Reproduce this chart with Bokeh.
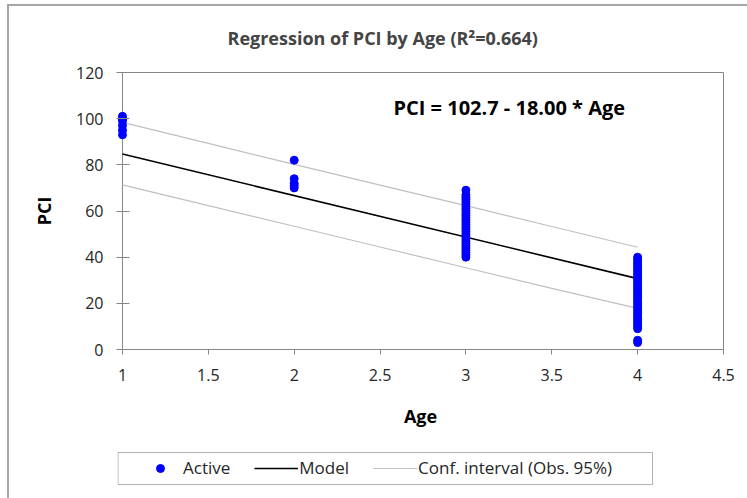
from bokeh.plotting import figure
from bokeh.models import Range1d, LinearAxis, Legend, LegendItem, Label, FixedTicker, BoxAnnotation
from bokeh.layouts import column
from bokeh.embed import file_html
from bokeh.resources import INLINE

# ---- data ----
age_1_pci = [101, 100, 99, 97, 95, 93]
age_2_pci = [82, 74, 72, 71, 70]
age_3_pci = [69, 67, 66, 65, 64, 63, 62, 61, 60, 59, 58, 57, 56, 55, 54, 53, 52,
             51, 50, 49, 48, 47, 46, 45, 44, 43, 42, 41, 40]
age_4_pci = [40, 39, 38, 37, 36, 35, 34, 33, 32, 31, 30, 29, 28, 27, 26, 25, 24,
             23, 22, 21, 20, 19, 18, 17, 16, 15, 14, 13, 12, 11, 10, 9, 4, 3]

model_x = [1, 4]
model_y = [84.7, 30.7]

ci_x = [1, 1.5, 2, 2.5, 3, 3.5, 4]
ci_upper = [98.4, 89.3, 80.2, 71.2, 62.3, 53.3, 44.3]
ci_lower = [71.3, 62.3, 53.4, 44.4, 35.4, 26.5, 17.8]

x_ticks = [1, 1.5, 2, 2.5, 3, 3.5, 4, 4.5]
x_tick_labels = ["1", "1.5", "2", "2.5", "3", "3.5", "4", "4.5"]
y_ticks = [0, 20, 40, 60, 80, 100, 120]

title_text = "Regression of PCI by Age (R\u00b2=0.664)"
equation_text = "PCI = 102.7 - 18.00 * Age"
legend_labels = ["Active", "Model", "Conf. interval (Obs. 95%)"]

# ---- build point columns ----
xs, ys = [], []
for a, vals in [(1, age_1_pci), (2, age_2_pci), (3, age_3_pci), (4, age_4_pci)]:
    xs += [a] * len(vals)
    ys += vals

FONT = "Open Sans"
GRAY = "#868686"
TXT = "#262626"
PT_COLOR = "#0000ff"
CI_COLOR = "#c0c0c0"

p = figure(width=747, height=440, output_backend="svg", toolbar_location=None,
           x_range=Range1d(0.971, 4.5), y_range=Range1d(0, 120),
           min_border_left=117, min_border_right=24, min_border_top=71,
           min_border_bottom=91, background_fill_color="white",
           border_fill_color="white", border_fill_alpha=0, title=title_text)
p.outline_line_color = None
p.grid.visible = False

p.title.text_font = FONT
p.title.text_font_style = "bold"
p.title.text_font_size = "18px"
p.title.align = "left"
p.title.offset = 110
p.title.standoff = 46

# y axis line at x = 1
p.line([1, 1], [0, 120], line_color=GRAY, line_width=1)

p.line(ci_x, ci_upper, line_color=CI_COLOR, line_width=1.2)
p.line(ci_x, ci_lower, line_color=CI_COLOR, line_width=1.2)
p.line(model_x, model_y, line_color="black", line_width=1.6)
p.scatter(xs, ys, size=8, color=PT_COLOR, line_color=PT_COLOR)

# axes
xa = p.xaxis[0]
xa.ticker = FixedTicker(ticks=x_ticks)
xa.major_label_overrides = {t: l for t, l in zip(x_ticks, x_tick_labels)}
xa.bounds = (1, 4.5)
xa.axis_label = "Age"
xa.major_tick_in = 0
xa.major_tick_out = 5
xa.major_label_standoff = 14
xa.axis_label_standoff = 20
xa.axis_line_color = GRAY

ya = p.yaxis[0]
ya.ticker = FixedTicker(ticks=y_ticks)
ya.axis_label = "PCI"
ya.axis_line_color = None
ya.major_tick_in = 12
ya.major_tick_out = 1
ya.major_label_standoff = 13
ya.axis_label_standoff = 17

for ax in (xa, ya):
    ax.major_tick_line_color = GRAY
    ax.minor_tick_line_color = None
    ax.major_label_text_font = FONT
    ax.major_label_text_font_size = "16px"
    ax.major_label_text_color = TXT
    ax.axis_label_text_font = FONT
    ax.axis_label_text_font_size = "18px"
    ax.axis_label_text_font_style = "bold"
    ax.axis_label_text_color = "black"

# top and right frame lines (axes without ticks or labels)
top = LinearAxis(ticker=FixedTicker(ticks=[]), bounds=(1, 4.5), axis_line_color=GRAY,
                 major_tick_line_color=None, minor_tick_line_color=None,
                 major_tick_in=0, major_tick_out=0, minor_tick_in=0, minor_tick_out=0,
                 major_label_standoff=0, axis_label_standoff=0)
right = LinearAxis(ticker=FixedTicker(ticks=[]), bounds=(0, 120), axis_line_color=GRAY,
                   major_tick_line_color=None, minor_tick_line_color=None,
                   major_tick_in=0, major_tick_out=0, minor_tick_in=0, minor_tick_out=0,
                   major_label_standoff=0, axis_label_standoff=0)
p.add_layout(top, "above")
p.add_layout(right, "right")

# equation
p.add_layout(Label(x=2.578, y=104.9, text=equation_text, text_font=FONT,
                   text_font_style="bold", text_font_size="20px",
                   text_baseline="middle", text_color="black"))

# ---- legend strip: frame aligned with main plot, data units = pixels ----
p2 = figure(width=747, height=58, output_backend="svg", toolbar_location=None,
            x_range=Range1d(117, 723), y_range=Range1d(0, 58),
            x_axis_location=None, y_axis_location=None,
            min_border_left=117, min_border_right=24, min_border_top=0,
            min_border_bottom=0, background_fill_alpha=0,
            border_fill_color="white", border_fill_alpha=0)
p2.outline_line_color = None
p2.grid.visible = False

p2.add_layout(BoxAnnotation(left=117.5, right=652, bottom=14, top=46,
                            fill_color="white", fill_alpha=1.0,
                            line_color="black", line_width=1))

# proxies for the legend (real data, outside this strip's visible range)
l_pts = p2.scatter(xs, ys, size=7, color=PT_COLOR, line_color=PT_COLOR)
l_model = p2.line(model_x, model_y, line_color="black", line_width=1.6)
l_ci = p2.line(ci_x, ci_upper, line_color=CI_COLOR, line_width=1.2)

legend = Legend(items=[LegendItem(label=legend_labels[0], renderers=[l_pts]),
                       LegendItem(label=legend_labels[1], renderers=[l_model]),
                       LegendItem(label=legend_labels[2], renderers=[l_ci])],
                orientation="horizontal", location=(21, 19), margin=0,
                padding=0, spacing=24, glyph_width=44, label_standoff=1,
                border_line_color=None, background_fill_alpha=0,
                label_text_font=FONT, label_text_font_size="17px",
                label_text_color=TXT)
p2.add_layout(legend, "center")

layout = column(p, p2, spacing=0,
                styles={"background-color": "white",
                        "box-shadow": "inset 7px 4px 0 0 white, inset 9px 6px 0 0 #a6a6a6"})

open("out.html", "w").write(file_html(layout, INLINE))
